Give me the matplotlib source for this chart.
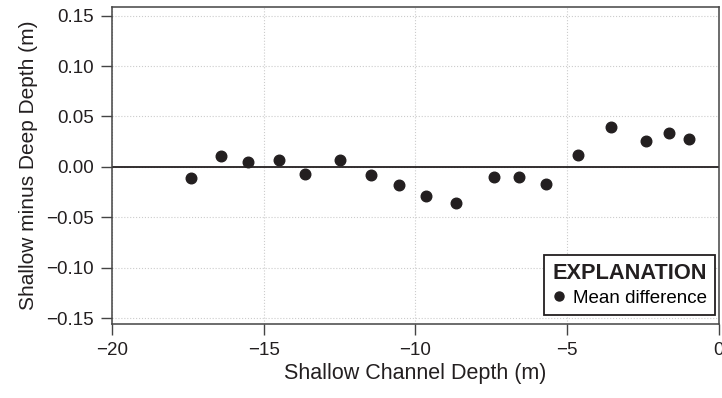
import matplotlib
matplotlib.use('Agg')
import matplotlib.pyplot as plt
from matplotlib.lines import Line2D

# Shallow channel depth (m) and mean difference shallow minus deep (m)
depth = [-17.4, -16.4, -15.5, -14.5, -13.65, -12.5, -11.45, -10.55, -9.65,
         -8.65, -7.4, -6.6, -5.7, -4.65, -3.55, -2.4, -1.65, -1.0]
diff = [-0.011, 0.011, 0.005, 0.007, -0.007, 0.007, -0.008, -0.0175, -0.029,
        -0.036, -0.0095, -0.0095, -0.0165, 0.012, 0.040, 0.026, 0.034, 0.0275]

xticks = [-20, -15, -10, -5, 0]
yticks = [-0.15, -0.10, -0.05, 0.00, 0.05, 0.10, 0.15]

plt.rcParams['font.family'] = ['Liberation Sans', 'DejaVu Sans']
ink = '#231f20'

fig = plt.figure(figsize=(7.22, 3.98), dpi=100)
ax = fig.add_axes([0.155, 0.186, 0.8408, 0.796])

ax.grid(True, linestyle=':', color='#cccccc', linewidth=0.8)
ax.set_axisbelow(True)
ax.axhline(0, color=ink, linewidth=1.3, zorder=2)
ax.scatter(depth, diff, s=58, color=ink, zorder=3)

ax.set_xlim(-20, 0)
ax.set_ylim(-0.1557, 0.1584)
ax.set_xticks(xticks)
ax.set_yticks(yticks)
ax.set_xticklabels([str(t).replace('-', '\u2212') for t in xticks])
ax.set_yticklabels([f'{t:.2f}'.replace('-', '\u2212') for t in yticks])
ax.tick_params(direction='out', length=8, width=1, color='#444444',
               labelsize=13.5, labelcolor=ink)
ax.tick_params(axis='y', pad=5)
ax.tick_params(axis='x', pad=5)
for sp in ax.spines.values():
    sp.set_color('#444444')
    sp.set_linewidth(1.1)

ax.set_xlabel('Shallow Channel Depth (m)', fontsize=15.5, color=ink, labelpad=3)
ax.set_ylabel('Shallow minus Deep Depth (m)', fontsize=15, color=ink, labelpad=6)

handle = Line2D([], [], marker='o', linestyle='none', color=ink, markersize=6.5)
leg = ax.legend([handle], ['Mean difference'], title='EXPLANATION',
                loc='lower right', fontsize=13.5, frameon=True, fancybox=False,
                handletextpad=0.3, handlelength=0.8, borderpad=0.45,
                labelspacing=0.3, borderaxespad=0,
                bbox_to_anchor=(0.9935, 0.027))
leg.get_title().set_fontweight('bold')
leg.get_title().set_fontsize(15.7)
leg.get_title().set_color(ink)
leg.get_frame().set_edgecolor(ink)
leg.get_frame().set_linewidth(1.3)
leg.get_frame().set_alpha(1)

fig.savefig('out.png', dpi=100)
